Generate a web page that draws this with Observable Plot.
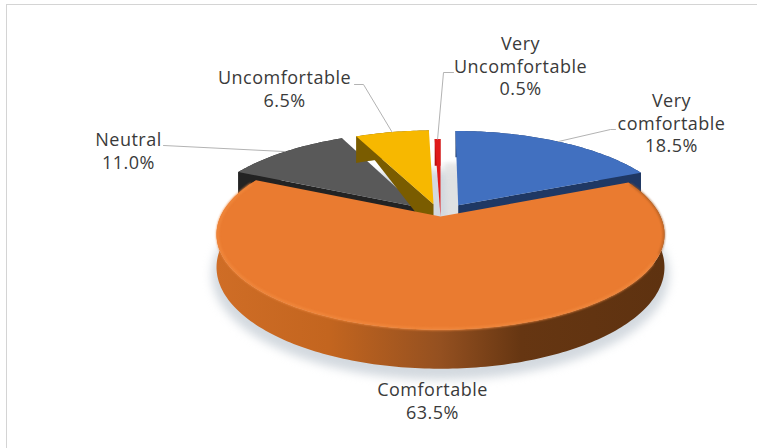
<!DOCTYPE html>
<html>
<head>
<meta charset="utf-8">
<script src="https://cdn.jsdelivr.net/npm/d3@7"></script>
<script src="https://cdn.jsdelivr.net/npm/@observablehq/plot@0.6"></script>
<style>
  html, body { margin: 0; padding: 0; background: #fff; }
</style>
</head>
<body>
<div id="chart"></div>
<script>
// Thermal comfort votes, share of respondents in percent
const categories = ["Very comfortable", "Comfortable", "Neutral", "Uncomfortable", "Very Uncomfortable"];
const shares = [18.5, 63.5, 11.0, 6.5, 0.5];
const labelLines = ["Very\ncomfortable", "Comfortable", "Neutral", "Uncomfortable", "Very\nUncomfortable"];

// Slice styling, same order as the categories
const topColors = ["#4170c0", "#ea7b30", "#595959", "#f7b800", "#e01a1a"];
const sideColors = ["#1f3864", "url(#rimShade)", "#232323", "#7a5c00", "#b81010"];
const explode = [0.15, 0, 0.15, 0.14, 0];
const labelCentres = [[671, 101], [432, 390], [128, 140], [284, 78], [520, 44]];
const leaderEnds = [[615, 129], null, [163, 145], [354, 84], [453, 72]];
const leaderElbows = [[610, 129], null, null, [363, 84], [443, 72]];

// Perspective model of the tilted disc
const W = 757, H = 448;
const cx = 440, cy = 216, R = 220, A = 92, K = 0.1875, DEPTH = 31.7;
const rad = Math.PI / 180;

function project(deg, r, off, z) {
  const X = off[0] + r * Math.sin(deg * rad);
  const Y = off[1] + r * Math.cos(deg * rad);
  const s = 1 / (1 + K * Y);
  return {x: cx + R * X * s, y: cy - A * Y * s + z * DEPTH * s};
}
function arc(a0, a1, off, z, r = 1) {
  const n = Math.max(2, Math.ceil(Math.abs(a1 - a0)));
  return d3.range(n + 1).map((i) => project(a0 + (a1 - a0) * i / n, r, off, z));
}

let acc = 0;
const slices = shares.map((v, i) => {
  const start = acc * 3.6;
  acc += v;
  const end = acc * 3.6;
  const mid = (start + end) / 2;
  const off = [explode[i] * Math.sin(mid * rad), explode[i] * Math.cos(mid * rad)];
  return {i, v, start, end, mid, off};
});

const topFace = (s) => [project(0, 0, s.off, 0), ...arc(s.start, s.end, s.off, 0)];
const rimFace = (s) => [...arc(s.start, s.end, s.off, 0), ...arc(s.end, s.start, s.off, 1)];
const cutFace = (deg, s) => [
  project(0, 0, s.off, 0), project(deg, 1, s.off, 0),
  project(deg, 1, s.off, 1), project(0, 0, s.off, 1)
];
// Cut face that narrows to nothing at the rim
const cutWedge = (deg, s) => [
  project(0, 0, s.off, 0), project(deg, 1, s.off, 0), project(0, 0, s.off, 1)
];
const poly = (pts, fill, extra = {}) =>
  Plot.line(pts, {x: "x", y: "y", fill, stroke: "none", ...extra});

// Gradient used along the rim of the large slice
const defs = () => {
  const g = document.createElementNS("http://www.w3.org/2000/svg", "g");
  g.innerHTML = `<defs><linearGradient id="rimShade" x1="0" x2="1" y1="0" y2="0">
    <stop offset="0" stop-color="#cf6d26"/><stop offset="0.25" stop-color="#c3651f"/>
    <stop offset="0.5" stop-color="#945020"/><stop offset="0.68" stop-color="#663612"/>
    <stop offset="1" stop-color="#5e3210"/></linearGradient></defs>`;
  return g;
};

const marks = [defs];

// Page frame
marks.push(Plot.ruleY([4], {x1: 6, x2: W, stroke: "#d4d4d4", strokeWidth: 1}));
marks.push(Plot.ruleX([6], {y1: 4, y2: H, stroke: "#d4d4d4", strokeWidth: 1}));

// Soft ground shadows
const big = slices[1];
marks.push(poly(arc(0, 360, [0, 0], 1.2, 1.02), "#c4ccd4", {imageFilter: "blur(5px)", fillOpacity: 0.75}));
marks.push(poly(topFace(slices[0]).map((p) => ({x: p.x - 11, y: p.y + 32})), "#e2e2e2", {imageFilter: "blur(2px)", fillOpacity: 0.8}));

// Rear slices, far to near, then the front slice on top
for (const i of [2, 3, 4, 0, 1]) {
  const s = slices[i];
  marks.push(poly(rimFace(s), sideColors[i]));
  if (i === 2) marks.push(poly(cutFace(s.start, s), sideColors[i]));
  if (i === 3) marks.push(poly(cutWedge(s.start, s), sideColors[i]));
  if (i === 4) marks.push(poly(cutFace(s.end, s), sideColors[i]));
  if (i === 0) marks.push(poly(cutFace(s.end, s), sideColors[i]));
  marks.push(poly(topFace(s), topColors[i]));
}

// Bevel on the front slice edge: light on the lit side, dark on the shaded side
marks.push(Plot.line(arc(118, 292, big.off, 0, 0.995), {x: "x", y: "y", stroke: "#f0873c", strokeWidth: 2.5, imageFilter: "blur(1px)"}));
marks.push(Plot.line(arc(68, 112, big.off, 0, 0.998), {x: "x", y: "y", stroke: "#a85a20", strokeWidth: 1.5, imageFilter: "blur(1px)"}));

// Leader lines start at the rim, at each slice's middle angle
slices.forEach((s) => {
  const end = leaderEnds[s.i];
  if (!end) return;
  const a = project(s.mid, 1, s.off, 0);
  const elbow = leaderElbows[s.i];
  const pts = [a, ...(elbow ? [{x: elbow[0], y: elbow[1]}] : []), {x: end[0], y: end[1]}];
  marks.push(Plot.line(pts, {x: "x", y: "y", stroke: "#b3b3b3", strokeWidth: 1}));
});

// Category and value labels
const labels = slices.map((s) => ({
  text: `${labelLines[s.i]}\n${s.v.toFixed(1)}%`,
  x: labelCentres[s.i][0],
  y: labelCentres[s.i][1] - 10
}));
marks.push(Plot.text(labels, {
  x: "x", y: "y", text: "text", lineAnchor: "top", lineHeight: 1.25,
  textAnchor: "middle", fontFamily: "Open Sans", fontSize: 18, fill: "#3a3a3a"
}));

const chart = Plot.plot({
  width: W, height: H, margin: 0,
  style: {background: "#fff", letterSpacing: "0.5px"},
  x: {domain: [0, W], axis: null},
  y: {domain: [H, 0], axis: null},
  marks
});
document.getElementById("chart").append(chart);
</script>
</body>
</html>
